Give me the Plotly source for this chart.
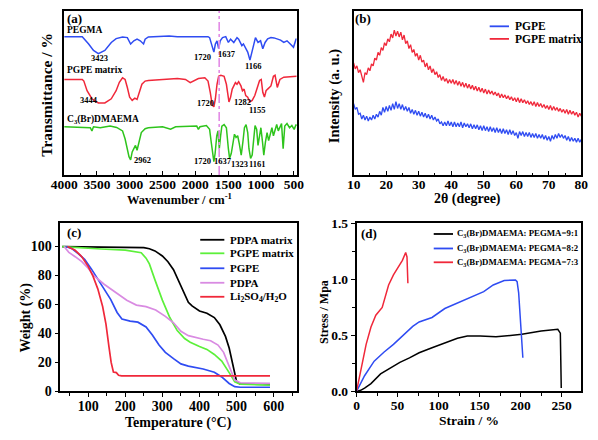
import numpy as np
import plotly.graph_objects as go

FONT = "Liberation Serif"
W, H = 598, 440

# ---------------- Panel (a): FTIR ----------------
pegma_wn = [4000, 3724, 3627, 3553, 3479, 3380, 3282, 3208, 3110, 3037, 2987, 2938, 2889, 2840, 2790, 2766,
            2717, 2400, 2274, 1807, 1783, 1743, 1718, 1695, 1670, 1645, 1621, 1586, 1537, 1497, 1463, 1414,
            1365, 1340, 1291, 1267, 1232, 1202, 1168, 1134, 1104, 1084, 1045, 1006, 972, 937, 898, 848, 800,
            751, 701, 652, 603, 553, 504, 465, 455]
pegma_t = [143.3, 143.3, 135.7, 129, 125.7, 129, 137.3, 141.3, 143, 142.3, 135.7, 139, 140.7, 139, 135.7, 140.7,
           143, 144, 143.3, 143.3, 142.3, 134, 127.3, 135.7, 139, 131, 139, 142.3, 143.3, 137.3, 140.7, 137.3,
           142.3, 140.7, 134, 135.7, 130.7, 127.3, 119, 127.3, 137.3, 142.3, 137.3, 139, 130.7, 137.3, 141, 142.3, 142,
           140.7, 139.7, 137.3, 139, 135.7, 132.3, 140.7, 141]

pgpe_matrix_wn = [4000, 3724, 3700, 3651, 3577, 3479, 3380, 3282, 3208, 3159, 3110, 3071, 3037, 3002, 2963, 2923,
                  2889, 2854, 2815, 2766, 2717, 2274, 2151, 2078, 2028, 1954, 1856, 1807, 1773, 1743, 1718, 1695,
                  1670, 1645, 1611, 1562, 1527, 1503, 1488, 1463, 1438, 1414, 1389, 1365, 1340, 1305, 1282, 1257,
                  1232, 1202, 1168, 1134, 1094, 1055, 1021, 996, 972, 947, 922, 898, 848, 810, 785, 751, 711, 652, 455]
pgpe_matrix_t = [99, 99, 97.3, 87.3, 79, 74.7, 74.7, 79, 87.3, 96, 100.7, 99, 90.7, 80.7, 77.3, 79.7,
                 78.3, 85.7, 94, 97.3, 98, 100, 99, 95.7, 97.3, 100, 100.7, 97.3, 85.7, 72.3, 70.7, 79,
                 94, 102.3, 103.3, 102.3, 94, 79, 75.7, 80.7, 89, 92.3, 95.7, 94, 96.7, 92.3, 87.3, 89,
                 82.3, 80.7, 75.7, 77.3, 82.3, 90.7, 98, 99, 85.7, 80.7, 87.3, 89, 92.3, 102.3, 103.3, 90.7, 99, 101.3, 102.3]

c3_wn = [4000, 3620, 3602, 3577, 3553, 3450, 3300, 3200, 3159, 3110, 3071, 3037, 3012, 2987, 2963, 2938, 2913,
         2889, 2864, 2824, 2766, 2717, 2500, 2378, 2300, 2274, 1979, 1954, 1930, 1832, 1783, 1758, 1733, 1718,
         1699, 1674, 1655, 1635, 1615, 1596, 1562, 1527, 1497, 1478, 1453, 1429, 1404, 1380, 1355, 1330, 1301,
         1276, 1252, 1227, 1202, 1183, 1158, 1134, 1109, 1090, 1065, 1045, 1021, 1001, 976, 957, 932, 907, 883,
         858, 833, 810, 785, 760, 736, 711, 686, 662, 637, 603, 564, 529, 494, 465, 455]
c3_t = [50, 49.5, 49, 45.7, 50, 49, 50.7, 49.3, 48, 45.7, 37.3, 27.3, 19, 15.7, 24, 27.3, 30.7,
        25.7, 34, 44, 48, 49, 50, 47.5, 50, 50, 50.7, 47.3, 50, 51.3, 47.3, 34, 20.7, 14,
        22.3, 40.7, 45.7, 27.3, 40.7, 50.7, 52.3, 49, 27.3, 17.3, 22.3, 34, 42.3, 39, 40.7, 32.3, 20.7,
        34, 49, 52.3, 44, 27.3, 17.3, 20.7, 40.7, 51.3, 47.3, 30.7, 40.7, 49, 34, 20.7, 34, 44, 35.7,
        44, 49, 40.7, 47.3, 52.3, 45.7, 50.7, 53.3, 27.3, 50.7, 53.3, 49, 51.3, 47.3, 52.3, 51]

marker_wavenumber = 1637

# ---------------- Panel (b): XRD ----------------
two_theta_start, two_theta_step = 10.0, 0.5
pgpe_matrix_xrd = [116, 110, 113, 106, 109, 103, 96, 106, 104, 111,
                   108, 115, 113, 121, 119, 127, 124, 132, 129, 137,
                   134, 141, 138, 146, 142, 150, 144, 149, 143, 148,
                   140, 145, 136, 139, 131, 135, 127, 130, 123, 126,
                   119, 124, 117, 119, 112, 116, 109, 113, 106, 110,
                   104, 107, 101, 104, 98, 102, 97, 100, 95, 99,
                   95, 99, 94, 98, 93, 97, 92, 96, 91, 95,
                   90, 94, 89, 93, 88, 92, 87, 91, 86, 90,
                   85, 89, 84, 88, 84, 87, 83, 86, 82, 85,
                   80, 84, 80, 83, 79, 82, 78, 81, 77, 80,
                   76, 80, 75, 79, 75, 78, 74, 77, 73, 76,
                   72, 76, 71, 75, 71, 74, 70, 73, 69, 72,
                   68, 72, 67, 71, 67, 70, 66, 69, 65, 68,
                   64, 68, 63, 67, 63, 66, 62, 65, 60, 64,
                   61]
pgpe_xrd = [74, 68, 70, 63, 64, 58, 62, 57, 61, 56,
            60, 57, 62, 58, 63, 60, 66, 62, 70, 65,
            71, 66, 72, 67, 74, 68, 76, 69, 74, 68,
            73, 67, 71, 66, 70, 64, 68, 63, 67, 62,
            66, 61, 65, 60, 64, 59, 63, 58, 62, 57,
            60, 56, 58, 53, 55, 51, 55, 51, 56, 51,
            55, 50, 55, 50, 54, 50, 55, 49, 54, 50,
            53, 49, 53, 48, 52, 48, 52, 47, 51, 46,
            51, 46, 50, 45, 50, 45, 49, 44, 49, 44,
            48, 43, 48, 43, 47, 42, 47, 42, 46, 41,
            44, 38, 45, 41, 45, 40, 44, 40, 44, 39,
            43, 39, 43, 38, 42, 38, 42, 37, 41, 36,
            40, 35, 41, 37, 42, 38, 43, 39, 42, 38,
            41, 36, 40, 35, 39, 35, 38, 34, 38, 34,
            37]
two_theta = two_theta_start + two_theta_step * np.arange(len(pgpe_xrd))

# ---------------- Panel (c): TGA ----------------
pdpa_matrix_T = [30, 100, 200, 250, 265, 280, 300, 315, 330, 345, 360, 370, 380, 400, 420, 440, 455, 470, 480, 490, 500, 510, 590]
pdpa_matrix_W = [100, 99.8, 99.6, 99.3, 98.5, 97, 93.5, 89.5, 84, 76, 67, 61.5, 59, 55.5, 54, 51, 46, 38, 30, 19, 6.7, 5.1, 4.9]
pgpe_matrix_T = [30, 80, 135, 200, 243, 256, 265, 280, 300, 320, 340, 360, 375, 400, 420, 440, 460, 480, 495, 510, 590]
pgpe_matrix_W = [100, 99, 98.3, 97.5, 95.7, 92, 88, 77, 63, 51, 42, 36.5, 34, 31, 29, 25.5, 21, 13, 6.7, 5, 4.4]
pgpe_T = [39, 57, 74, 91, 109, 126, 143, 161, 178, 191, 213, 234, 256, 273, 291, 308, 330, 350, 370, 390, 410, 440, 460, 480, 495, 510, 590]
pgpe_W = [100, 98.5, 95, 91, 84.4, 77.7, 71, 63.4, 54.5, 50, 48.5, 47.8, 44.5, 39, 32, 27, 22.6, 19, 17.5, 16.5, 15.5, 13.3, 10, 5.5, 3.3, 2.9, 2.9]
pdpa_T = [35, 48, 65, 83, 100, 117, 143, 178, 204, 230, 256, 282, 308, 330, 350, 370, 390, 410, 430, 450, 465, 480, 495, 510, 590]
pdpa_W = [100, 96, 93, 89.6, 85, 79.5, 74, 67.3, 62.9, 59.6, 58.5, 56.2, 51.8, 47.4, 41.5, 38.5, 37, 36, 35, 32, 27, 17, 7.8, 6, 5.5]
li2so4_T = [44, 65, 83, 100, 113, 126, 139, 148, 156, 162, 168, 176, 182, 190, 590]
li2so4_W = [100, 97.4, 93, 86.3, 79.6, 70.8, 58.6, 46.5, 31, 20, 13.4, 13, 11.2, 10.7, 10.7]

# ---------------- Panel (d): stress-strain ----------------
r91_strain = [0, 5, 9.8, 17.6, 29.3, 41, 52.8, 64.5, 76.3, 92, 107.6, 123, 135, 150.6, 170, 180, 201.5, 225, 245.3, 248.4, 249.5]
r91_stress = [0, 0.01, 0.03, 0.07, 0.156, 0.21, 0.26, 0.30, 0.345, 0.39, 0.43, 0.475, 0.495, 0.495, 0.487, 0.495, 0.51, 0.54, 0.555, 0.52, 0.03]
r82_strain = [0, 9.8, 21.5, 33.3, 45, 56.7, 68.5, 76.3, 92, 107.6, 123, 139, 155, 166.6, 180, 193.7, 195.7, 197.6, 199.5, 202.7]
r82_stress = [0, 0.14, 0.27, 0.35, 0.42, 0.50, 0.58, 0.62, 0.66, 0.74, 0.79, 0.835, 0.89, 0.95, 0.99, 0.995, 0.98, 0.88, 0.62, 0.30]
r73_strain = [0, 5.9, 11.7, 17.6, 23.5, 31.3, 35.2, 39.1, 45, 52.8, 55.9, 59.9, 61.5, 62.6]
r73_stress = [0, 0.23, 0.42, 0.575, 0.68, 0.75, 0.85, 0.95, 1.04, 1.13, 1.17, 1.24, 1.2, 0.965]

BLUE = "#2f4cf2"
RED = "#f0283a"
GREEN_IR = "#2ec41c"
GREEN_TGA = "#5cf03a"
PINK = "#d98be2"
BLACK = "#000000"

fig = go.Figure()

def add(x, y, color, ax, width=1.5):
    fig.add_trace(go.Scatter(x=x, y=y, mode="lines", line=dict(color=color, width=width),
                             xaxis="x" + ax, yaxis="y" + ax, showlegend=False, hoverinfo="skip"))

add(pegma_wn, pegma_t, BLUE, "")
add(pgpe_matrix_wn, pgpe_matrix_t, RED, "")
add(c3_wn, c3_t, GREEN_IR, "")

add(two_theta, pgpe_xrd, BLUE, "2", 1.3)
add(two_theta, pgpe_matrix_xrd, RED, "2", 1.3)

add(pdpa_matrix_T, pdpa_matrix_W, BLACK, "3", 1.7)
add(pgpe_matrix_T, pgpe_matrix_W, GREEN_TGA, "3", 1.7)
add(pgpe_T, pgpe_W, BLUE, "3", 1.7)
add(pdpa_T, pdpa_W, PINK, "3", 1.7)
add(li2so4_T, li2so4_W, RED, "3", 1.7)

add(r91_strain, r91_stress, BLACK, "4", 1.5)
add(r82_strain, r82_stress, BLUE, "4", 1.5)
add(r73_strain, r73_stress, RED, "4", 1.5)

def px(x):
    return x / W

def py(y):
    return 1 - y / H

tickfont = dict(family=FONT, size=13.5, color="black", weight="bold")
base = dict(showline=True, linecolor="black", linewidth=1.6, mirror=True, showgrid=False,
            zeroline=False, tickfont=tickfont, tickcolor="black", tickwidth=1.4)

fig.update_layout(
    width=W, height=H, margin=dict(l=0, r=0, t=0, b=0),
    paper_bgcolor="white", plot_bgcolor="white", showlegend=False,
    xaxis=dict(base, domain=[px(52), px(293)], anchor="y", range=[4000, 455], dtick=500, tick0=0,
               ticks="inside", ticklen=4, ticklabelstandoff=-4,
               minor=dict(ticks="inside", dtick=250, ticklen=2.5, tickcolor="black", tickwidth=1.2)),
    yaxis=dict(base, domain=[py(174), py(4)], anchor="x", range=[0, 170], showticklabels=False, ticks=""),
    xaxis2=dict(base, domain=[px(352), px(588)], anchor="y2", range=[10, 80], dtick=10,
                ticks="inside", ticklen=4, ticklabelstandoff=-4,
                minor=dict(ticks="inside", dtick=5, ticklen=2.5, tickcolor="black", tickwidth=1.2)),
    yaxis2=dict(base, domain=[py(174), py(4)], anchor="x2", range=[0, 170], showticklabels=False, ticks=""),
    xaxis3=dict(base, domain=[px(48), px(293)], anchor="y3", range=[25, 662], dtick=100,
                ticks="outside", ticklen=4, ticklabelstandoff=-3, tickfont=dict(tickfont, size=14),
                minor=dict(ticks="outside", dtick=50, ticklen=2.5, tickcolor="black", tickwidth=1.2)),
    yaxis3=dict(base, domain=[py(398), py(224)], anchor="x3", range=[0, 116], dtick=20,
                ticks="outside", ticklen=4, tickfont=dict(tickfont, size=14)),
    xaxis4=dict(base, domain=[px(355), px(588)], anchor="y4", range=[0, 274], dtick=50,
                ticks="outside", ticklen=4, ticklabelstandoff=-3, tickfont=dict(tickfont, size=13.5),
                minor=dict(ticks="outside", dtick=25, ticklen=2.5, tickcolor="black", tickwidth=1.2)),
    yaxis4=dict(base, domain=[py(398), py(224)], anchor="x4", range=[0, 1.5], dtick=0.5, tickformat=".1f",
                ticks="outside", ticklen=4, tickfont=dict(tickfont, size=13.5),
                minor=dict(ticks="outside", dtick=0.25, ticklen=2.5, tickcolor="black", tickwidth=1.2)),
)

# reference line at 1637 cm-1
fig.add_shape(type="line", xref="x", yref="y", x0=marker_wavenumber, x1=marker_wavenumber, y0=0, y1=170,
              line=dict(color="#e38de6", width=1.6, dash="dashdot"), layer="above")

ann = []

def txt(x, y, s, size=12, xanchor="center", angle=0, xref="paper", yref="paper"):
    ann.append(dict(x=x, y=y, xref=xref, yref=yref, text=s, showarrow=False, xanchor=xanchor,
                    yanchor="middle", textangle=angle,
                    font=dict(family=FONT, size=size, color="black", weight="bold")))

# panel labels
txt(px(63), py(12), "(a)", 13)
txt(px(362), py(12), "(b)", 13)
txt(px(62), py(233), "(c)", 13)
txt(px(368), py(234), "(d)", 13)

# axis titles
txt(px(34), py(91), "Transmittance / %", 15.5, angle=-90)
txt(px(172), py(199), "Wavenumber / cm<sup>-1</sup>", 12.5)
txt(px(333), py(92), "Intensity (a. u.)", 14.5, angle=-90)
txt(px(470), py(199), "2θ (degree)", 14)
txt(px(12), py(322), "Weight (%)", 14, angle=-90)
txt(px(170), py(431), "Temperature (°C)", 14)
txt(px(322), py(316), "Stress / Mpa", 12, angle=-90)
txt(px(472), py(428), "Strain / %", 13.5)

# FTIR series names
txt(3990, 150.5, "PEGMA", 9.5, xanchor="left", xref="x", yref="y")
txt(3990, 109, "PGPE matrix", 9.5, xanchor="left", xref="x", yref="y")
txt(3990, 58, "C<sub>3</sub>(Br)DMAEMA", 9.5, xanchor="left", xref="x", yref="y")

# FTIR peak labels
peaks = [(3454, 121, "3423"), (1891, 122, "1720"), (1515, 125, "1637"), (1117, 113, "1166"),
         (3624, 78, "3444"), (1847, 75, "1720"), (1279, 76, "1282"), (1058, 67, "1155"),
         (2813, 16, "2962"), (1890, 15, "1720"), (1585, 15, "1637"), (1322, 11, "1323"), (1050, 11, "1161")]
for x, y, s in peaks:
    txt(x, y, s, 8.5, xref="x", yref="y")

# manual legends
def legend(x0, x1, xt, rows, size):
    for ypix, color, label in rows:
        fig.add_shape(type="line", xref="paper", yref="paper", x0=px(x0), x1=px(x1), y0=py(ypix), y1=py(ypix),
                      line=dict(color=color, width=1.8))
        txt(px(xt), py(ypix), label, size, xanchor="left")

legend(493, 513, 517, [(20, BLUE, "PGPE"), (33, RED, "PGPE matrix")], 11.5)
legend(193, 218, 222, [(241, BLACK, "PDPA matrix"), (255, GREEN_TGA, "PGPE matrix"), (270.5, BLUE, "PGPE"),
                       (285.5, PINK, "PDPA"), (300, RED, "Li<sub>2</sub>SO<sub>4</sub>/H<sub>2</sub>O")], 11)
legend(435, 455, 457, [(235, BLACK, "C<sub>3</sub>(Br)DMAEMA: PEGMA=9:1"),
                       (250, BLUE, "C<sub>3</sub>(Br)DMAEMA: PEGMA=8:2"),
                       (264.3, RED, "C<sub>3</sub>(Br)DMAEMA: PEGMA=7:3")], 8.8)

fig.update_layout(annotations=ann)
fig.write_html("out.html", config={"displayModeBar": False},
               post_script="document.body.style.margin='0px';document.body.style.overflow='hidden';")
